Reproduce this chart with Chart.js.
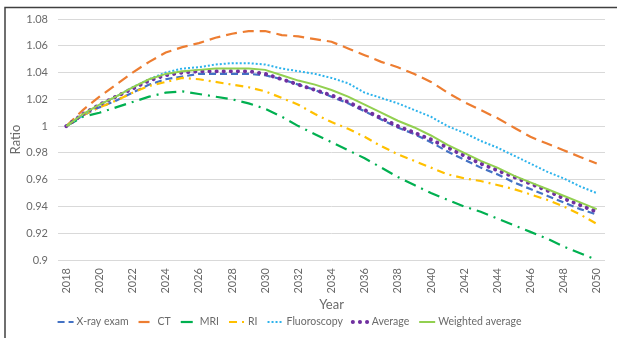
<!DOCTYPE html>
<html>
<head>
<meta charset="utf-8">
<script src="https://cdn.jsdelivr.net/npm/chart.js@4/dist/chart.umd.min.js"></script>
<style>
  html, body { margin: 0; padding: 0; background: #ffffff; }
</style>
</head>
<body>
<canvas id="RatioChart" width="617" height="338"></canvas>
<script>

// years on the category axis
var years = ["2018", "2019", "2020", "2021", "2022", "2023", "2024", "2025", "2026", "2027", "2028",
             "2029", "2030", "2031", "2032", "2033", "2034", "2035", "2036", "2037", "2038", "2039",
             "2040", "2041", "2042", "2043", "2044", "2045", "2046", "2047", "2048", "2049", "2050"];

// ratio values, one per year
var xray = [1.000, 1.008, 1.014, 1.019, 1.025, 1.031, 1.035, 1.037, 1.039, 1.039, 1.039, 1.039, 1.038,
            1.035, 1.031, 1.027, 1.022, 1.017, 1.011, 1.005, 0.999, 0.994, 0.988, 0.981, 0.975, 0.969,
            0.964, 0.958, 0.953, 0.948, 0.943, 0.938, 0.934];
var ct = [1.000, 1.012, 1.022, 1.031, 1.040, 1.048, 1.055, 1.059, 1.062, 1.066, 1.069, 1.071, 1.071,
          1.068, 1.067, 1.065, 1.063, 1.058, 1.053, 1.048, 1.044, 1.039, 1.033, 1.025, 1.018, 1.012,
          1.006, 0.999, 0.992, 0.987, 0.982, 0.977, 0.972];
var mri = [1.000, 1.007, 1.010, 1.014, 1.018, 1.022, 1.025, 1.026, 1.024, 1.022, 1.020, 1.017, 1.013,
           1.007, 1.000, 0.994, 0.988, 0.982, 0.976, 0.969, 0.962, 0.956, 0.950, 0.945, 0.940, 0.936,
           0.931, 0.926, 0.921, 0.916, 0.910, 0.905, 0.900];
var ri = [1.000, 1.008, 1.014, 1.019, 1.025, 1.030, 1.033, 1.036, 1.035, 1.033, 1.031, 1.029, 1.026,
          1.021, 1.016, 1.009, 1.003, 0.998, 0.992, 0.985, 0.979, 0.974, 0.969, 0.964, 0.961, 0.959,
          0.956, 0.953, 0.949, 0.945, 0.940, 0.934, 0.927];
var fluoroscopy = [1.000, 1.008, 1.016, 1.022, 1.029, 1.035, 1.040, 1.043, 1.044, 1.046, 1.047, 1.047, 1.046,
                   1.043, 1.041, 1.039, 1.036, 1.032, 1.025, 1.021, 1.017, 1.012, 1.007, 1.000, 0.995, 0.989,
                   0.984, 0.978, 0.972, 0.966, 0.961, 0.955, 0.950];
var average = [1.000, 1.009, 1.016, 1.022, 1.028, 1.034, 1.038, 1.040, 1.041, 1.041, 1.041, 1.041, 1.039,
               1.035, 1.031, 1.027, 1.023, 1.018, 1.012, 1.006, 1.000, 0.995, 0.990, 0.984, 0.978, 0.972,
               0.967, 0.962, 0.957, 0.952, 0.946, 0.941, 0.936];
var weighted = [1.000, 1.009, 1.016, 1.022, 1.029, 1.035, 1.039, 1.041, 1.042, 1.043, 1.043, 1.043, 1.042,
                1.038, 1.034, 1.031, 1.027, 1.022, 1.016, 1.010, 1.004, 0.999, 0.993, 0.986, 0.980, 0.974,
                0.969, 0.963, 0.958, 0.953, 0.948, 0.943, 0.938];

var series_names = ["X-ray exam", "CT", "MRI", "RI", "Fluoroscopy", "Average", "Weighted average"];

var FONT = "Lato, 'Liberation Sans', sans-serif";
var TEXT_COLOR = "#6a6a6a";


function makeDataset(name, values, color, width, dash, cap, index) {
    return {
        label: name,
        data: values,
        borderColor: color,
        backgroundColor: color,
        borderWidth: width,
        borderDash: dash,
        borderCapStyle: cap,
        pointRadius: 0,
        tension: 0,
        fill: false,
        order: 6 - index   // later series on top, like the spreadsheet
    };
}


// white background and the dark frame round the chart
var framePlugin = {
    id: "frame",
    beforeDraw: function (chart) {
        var ctx = chart.ctx;
        ctx.save();
        ctx.fillStyle = "#ffffff";
        ctx.fillRect(0, 0, chart.width, chart.height);
        ctx.strokeStyle = "#404040";
        ctx.lineWidth = 1.5;
        ctx.strokeRect(5, 7.5, chart.width + 20, chart.height + 20);
        ctx.restore();
    }
};


// legend drawn with the real dash patterns of each line
var lineLegendPlugin = {
    id: "lineLegend",
    afterDraw: function (chart) {
        var ctx = chart.ctx;
        var sample = 17, gap_text = 3, gap_item = 9;
        var datasets = chart.data.datasets;
        ctx.save();
        ctx.font = "10.5px " + FONT;
        var widths = datasets.map(function (ds) { return ctx.measureText(ds.label).width; });
        var total = gap_item * (datasets.length - 1);
        for (var i = 0; i < widths.length; ++i) total += sample + gap_text + widths[i];

        var x = 289 - total / 2;
        var y = 322;
        for (var i = 0; i < datasets.length; ++i) {
            var ds = datasets[i];
            ctx.strokeStyle = ds.borderColor;
            ctx.lineWidth = ds.borderWidth;
            ctx.lineCap = ds.borderCapStyle;
            ctx.setLineDash(ds.borderDash);
            ctx.beginPath();
            ctx.moveTo(x + 1, y);
            ctx.lineTo(x + sample, y);
            ctx.stroke();
            ctx.setLineDash([]);
            ctx.fillStyle = TEXT_COLOR;
            ctx.textAlign = "left";
            ctx.textBaseline = "middle";
            ctx.fillText(ds.label, x + sample + gap_text, y);
            x += sample + gap_text + widths[i] + gap_item;
        }
        ctx.restore();
    }
};


document.addEventListener("DOMContentLoaded", function () {
    var canvas = document.getElementById("RatioChart");

    var datasets = [
        makeDataset(series_names[0], xray,        "#4472C4", 2.2, [7, 4],        "butt",  0),
        makeDataset(series_names[1], ct,          "#ED7D31", 2.2, [11, 6],       "butt",  1),
        makeDataset(series_names[2], mri,         "#00B050", 2.2, [12, 6, 2, 6], "butt",  2),
        makeDataset(series_names[3], ri,          "#FFC000", 2.2, [8, 5, 2, 5],  "butt",  3),
        makeDataset(series_names[4], fluoroscopy, "#2DB3EC", 2,   [2, 2],        "butt",  4),
        makeDataset(series_names[5], average,     "#7030A0", 4,   [0.1, 7],      "round", 5),
        makeDataset(series_names[6], weighted,    "#92D050", 2,   [],            "butt",  6)
    ];

    new Chart(canvas, {
        type: "line",
        data: {
            labels: years,
            datasets: datasets
        },
        plugins: [framePlugin, lineLegendPlugin],
        options: {
            responsive: false,
            animation: false,
            devicePixelRatio: 1,
            layout: {
                padding: {left: 8, right: 12, top: 19, bottom: 21}
            },
            scales: {
                x: {
                    type: "category",
                    offset: true,
                    grid: {display: false, drawTicks: true, tickLength: 8},
                    border: {display: false},
                    ticks: {
                        autoSkip: false,
                        minRotation: 90,
                        maxRotation: 90,
                        padding: 0,
                        color: TEXT_COLOR,
                        font: {family: FONT, size: 11},
                        callback: function (value, index) {
                            return index % 2 === 0 ? this.getLabelForValue(value) : "";
                        }
                    },
                    title: {
                        display: true,
                        text: "Year",
                        color: TEXT_COLOR,
                        font: {family: FONT, size: 13},
                        padding: {top: 4, bottom: 4}
                    },
                    afterFit: function (scale) { scale.height = 57; }
                },
                y: {
                    min: 0.9,
                    max: 1.08,
                    grid: {color: "#D9D9D9", drawTicks: false, lineWidth: 1},
                    border: {display: false},
                    ticks: {
                        stepSize: 0.02,
                        padding: 10,
                        color: TEXT_COLOR,
                        font: {family: FONT, size: 11},
                        callback: function (value) { return String(Number(value.toFixed(2))); }
                    },
                    title: {
                        display: true,
                        text: "Ratio",
                        color: TEXT_COLOR,
                        font: {family: FONT, size: 13},
                        padding: {top: 0, bottom: 0}
                    },
                    afterFit: function (scale) { scale.width = 50; }
                }
            },
            plugins: {
                legend: {display: false},
                tooltip: {enabled: false}
            }
        }
    });
});
</script>
</body>
</html>
